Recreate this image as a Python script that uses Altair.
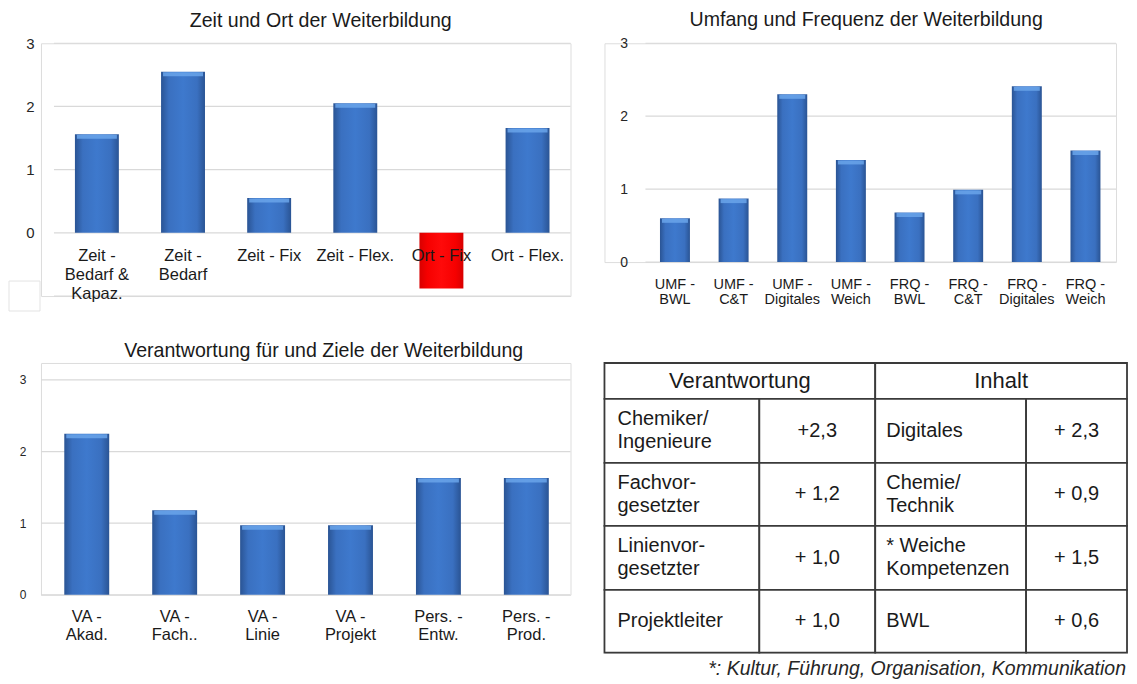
import altair as alt
import pandas as pd

FONT = "Liberation Sans"
TXT = "#1a1a1a"

# ---------------- data ----------------
zeit_cats = ["Zeit -\nBedarf &\nKapaz.", "Zeit -\nBedarf", "Zeit - Fix", "Zeit - Flex.", "Ort - Fix", "Ort - Flex."]
zeit_vals = [1.56, 2.55, 0.55, 2.05, -0.88, 1.66]

umf_cats = ["UMF -\nBWL", "UMF -\nC&T", "UMF -\nDigitales", "UMF -\nWeich",
            "FRQ -\nBWL", "FRQ -\nC&T", "FRQ -\nDigitales", "FRQ -\nWeich"]
umf_vals = [0.60, 0.87, 2.30, 1.40, 0.68, 0.99, 2.41, 1.53]

va_cats = ["VA -\nAkad.", "VA -\nFach..", "VA -\nLinie", "VA -\nProjekt", "Pers. -\nEntw.", "Pers. -\nProd."]
va_vals = [2.25, 1.18, 0.97, 0.97, 1.63, 1.63]

y_ticks = [0, 1, 2, 3]

tbl_headers = ["Verantwortung", "Inhalt"]
resp_labels = ["Chemiker/\nIngenieure", "Fachvor-\ngesetzter", "Linienvor-\ngesetzter", "Projektleiter"]
resp_values = ["+2,3", "+ 1,2", "+ 1,0", "+ 1,0"]
cont_labels = ["Digitales", "Chemie/\nTechnik", "* Weiche\nKompetenzen", "BWL"]
cont_values = ["+ 2,3", "+ 0,9", "+ 1,5", "+ 0,6"]
footnote = "*: Kultur, Führung, Organisation, Kommunikation"

titles = ["Zeit und Ort der Weiterbildung",
          "Umfang und Frequenz der Weiterbildung",
          "Verantwortung für und Ziele der Weiterbildung"]

# ---------------- styles ----------------
def grad(edge, mid, center):
    return alt.Gradient(
        gradient="linear", x1=0, x2=1, y1=0, y2=0,
        stops=[alt.GradientStop(color=edge, offset=0),
               alt.GradientStop(color=mid, offset=0.18),
               alt.GradientStop(color=center, offset=0.5),
               alt.GradientStop(color=mid, offset=0.82),
               alt.GradientStop(color=edge, offset=1)])

BLUE = grad("#2A5494", "#3A70C0", "#3E79CD")
RED = grad("#D80000", "#F60000", "#FF0A0A")


def bar_panel(cats, vals, title, W, H, ydom, pin, pout, align, grid_vals, gx,
              tick_fs, lab_fs, lab_dy, lab_lh, title_off, title_dx,
              axis_offset, label_pad, bevel_size, extra=None):
    df = pd.DataFrame({"cat": cats, "v": vals})
    xsc = alt.Scale(domain=cats, paddingInner=pin, paddingOuter=pout, align=align)
    x = alt.X("cat:N", sort=cats, scale=xsc, axis=None)
    ysc = alt.Scale(domain=ydom, nice=False, zero=False)
    gdf = pd.DataFrame({"g": grid_vals})
    grid = alt.Chart(gdf).mark_rule(color="#D9D9D9", strokeWidth=1.2).encode(
        y=alt.Y("g:Q", scale=ysc, title=None,
                axis=alt.Axis(values=y_ticks, format="d", grid=False, domain=False, ticks=False,
                              labelFontSize=tick_fs, labelPadding=label_pad,
                              offset=axis_offset, labelColor="#262626",
                              labelFont=FONT)),
        x=alt.value(gx[0]), x2=alt.value(gx[1]))
    blue = alt.Chart(df).transform_filter("datum.v >= 0").mark_bar(color=BLUE).encode(
        x=x, y=alt.Y("v:Q", scale=ysc, title=None), y2=alt.datum(0))
    bevel = alt.Chart(df).transform_filter("datum.v >= 0").mark_tick(
        color="#6AA5EA", thickness=4, size=bevel_size, yOffset=2.5, opacity=0.85).encode(
        x=x, y=alt.Y("v:Q", scale=ysc, title=None))
    red = alt.Chart(df).transform_filter("datum.v < 0").mark_bar(color=RED).encode(
        x=x, y=alt.Y("v:Q", scale=ysc, title=None), y2=alt.datum(0))
    labels = alt.Chart(df).mark_text(
        baseline="top", align="center", lineBreak="\n", fontSize=lab_fs, font=FONT,
        color=TXT, dy=lab_dy, lineHeight=lab_lh).encode(
        x=x, y=alt.datum(0), text="cat:N")
    layers = [grid, blue, bevel, red, labels]
    if extra is not None:
        layers.append(extra)
    return alt.layer(*layers).properties(
        width=W, height=H,
        title=alt.TitleParams(text=title, fontSize=19.6, font=FONT, fontWeight="normal",
                              color=TXT, anchor="middle", frame="group",
                              baseline="alphabetic", offset=title_off, dx=title_dx))


# empty legend-like box seen left of the first panel
box = alt.Chart(pd.DataFrame({"k": [0]})).mark_rect(
    fill="white", stroke="#E3E3E3", strokeWidth=1).encode(
    x=alt.value(-32), x2=alt.value(-1), y=alt.value(238), y2=alt.value(268))

p1 = bar_panel(zeit_cats, zeit_vals, titles[0], 530, 253, [-1, 3],
               0.49, 0.319, 0.618, [-1, 0, 1, 2, 3], (13, 530),
               15, 16.5, 15, 19, -10, 15, 0, 7, 40, extra=box)
p2 = bar_panel(umf_cats, umf_vals, titles[1], 512, 219, [0, 3],
               0.489, 0.606, 0.781, [0, 1, 2, 3], (41, 512),
               14, 14.5, 16, 15, -9, 6, -41, 18, 26)
p3 = bar_panel(va_cats, va_vals, titles[2], 530, 232, [0, 3.237],
               0.489, 0.256, 0.518, [0, 1, 2, 3], (0, 530),
               12, 16.5, 14, 18.5, -14, 18, 0, 15, 41)

# ---------------- table ----------------
col_edges = [0, 155, 271, 422, 523]
row_edges = [0, 36, 100, 163, 227, 290]
LH = 23

cells = [dict(x0=col_edges[0], x1=col_edges[2], y0=row_edges[0], y1=row_edges[1]),
         dict(x0=col_edges[2], x1=col_edges[4], y0=row_edges[0], y1=row_edges[1])]
for r in range(4):
    for c in range(4):
        cells.append(dict(x0=col_edges[c], x1=col_edges[c + 1],
                          y0=row_edges[r + 1], y1=row_edges[r + 2]))
cells_df = pd.DataFrame(cells)


def block_y(cy, text):
    # baseline "middle" puts the first line at y; centre the whole block instead
    return cy - (text.count("\n")) * LH / 2


center_txt, left_txt = [], []
center_txt.append(dict(tx=(col_edges[0] + col_edges[2]) / 2, ty=(row_edges[0] + row_edges[1]) / 2,
                       t=tbl_headers[0], fs=22))
center_txt.append(dict(tx=(col_edges[2] + col_edges[4]) / 2, ty=(row_edges[0] + row_edges[1]) / 2,
                       t=tbl_headers[1], fs=22))
for r in range(4):
    cy = (row_edges[r + 1] + row_edges[r + 2]) / 2
    left_txt.append(dict(tx=col_edges[0] + 13, ty=block_y(cy, resp_labels[r]), t=resp_labels[r]))
    left_txt.append(dict(tx=col_edges[2] + 11, ty=block_y(cy, cont_labels[r]), t=cont_labels[r]))
    center_txt.append(dict(tx=(col_edges[1] + col_edges[2]) / 2, ty=cy, t=resp_values[r], fs=20))
    center_txt.append(dict(tx=(col_edges[3] + col_edges[4]) / 2, ty=cy, t=cont_values[r], fs=20))

txs = alt.Scale(domain=[0, 523], nice=False, zero=False)
tys = alt.Scale(domain=[0, 290], nice=False, zero=False, reverse=True)

rects = alt.Chart(cells_df).mark_rect(fill="white", stroke="#3A3A3A", strokeWidth=1.8).encode(
    x=alt.X("x0:Q", scale=txs, axis=None), x2="x1:Q",
    y=alt.Y("y0:Q", scale=tys, axis=None), y2="y1:Q")
ctext = alt.Chart(pd.DataFrame(center_txt)).mark_text(
    align="center", baseline="middle", font=FONT, color=TXT, lineBreak="\n").encode(
    x=alt.X("tx:Q", scale=txs, axis=None), y=alt.Y("ty:Q", scale=tys, axis=None),
    text="t:N", size=alt.Size("fs:Q", scale=None, legend=None))
ltext = alt.Chart(pd.DataFrame(left_txt)).mark_text(
    align="left", baseline="middle", font=FONT, color=TXT, fontSize=20,
    lineBreak="\n", lineHeight=LH).encode(
    x=alt.X("tx:Q", scale=txs, axis=None), y=alt.Y("ty:Q", scale=tys, axis=None),
    text="t:N")

tbl = alt.layer(rects, ctext, ltext).properties(
    width=523, height=290,
    title=alt.TitleParams(text=footnote, orient="bottom", anchor="end", frame="group",
                          fontSize=19.5, fontStyle="italic", fontWeight="normal",
                          font=FONT, color="#262626", baseline="alphabetic",
                          offset=21, dx=-1))

chart = alt.concat(p1, p2, p3, tbl, columns=2,
                   spacing={"row": 67, "column": 34},
                   align="none", bounds="flush").properties(
    padding={"left": 0, "top": 0, "right": 0, "bottom": 0}
).configure_view(stroke=None).configure(font=FONT)

chart.save("out.html", embed_options={"renderer": "svg", "actions": False})
